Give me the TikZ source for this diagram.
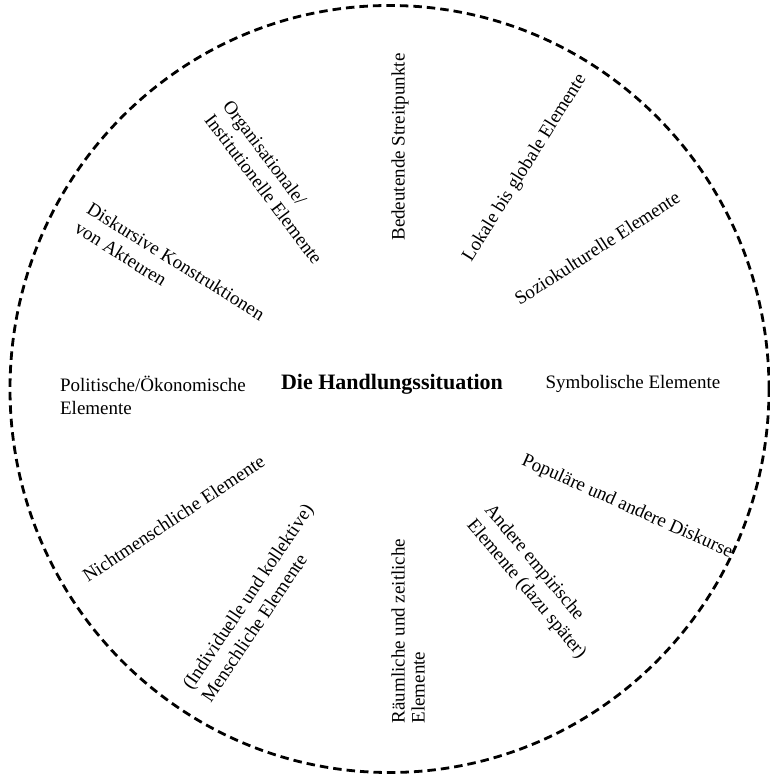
\documentclass[tikz,border=0pt]{standalone}
\usepackage{fontspec}
\setmainfont{Liberation Serif}
\begin{document}
\begin{tikzpicture}[x=1pt,y=1pt,
  lbl/.style={font=\fontsize{19}{23}\selectfont, align=left, inner sep=0pt},
  ring/.style={draw=black, line width=2.8pt, dash pattern=on 8.5pt off 5pt}]
\useasboundingbox (0,0) rectangle (770,776);
\draw[ring] (389.5,387) ellipse [x radius=379.5, y radius=383.5];
\node[lbl, font=\fontsize{22}{26}\selectfont\bfseries] (c) at (392,392) {Die Handlungssituation};
\node[lbl, rotate=90] (bed) at (400,629) {Bedeutende Streitpunkte};
\node[lbl, rotate=58] (lok) at (525,608) {Lokale bis globale Elemente};
\node[lbl, rotate=33] (soz) at (597,528) {Soziokulturelle Elemente};
\node[lbl] (sym) at (633,392) {Symbolische Elemente};
\node[lbl, rotate=-24] (pop) at (627,269) {Populäre und andere Diskurse};
\node[lbl, rotate=-50] (and) at (535,194) {Andere empirische\\Elemente (dazu später)};
\node[lbl, rotate=90, font=\fontsize{19}{20}\selectfont] (rau) at (408,145) {Räumliche und zeitliche\\Elemente};
\node[lbl, rotate=56] (ind) at (257,173) {(Individuelle und kollektive)\\Menschliche Elemente};
\node[lbl, rotate=33.5] (nic) at (173.5,257.5) {Nichtmenschliche Elemente};
\node[lbl] (pol) at (153,381) {Politische/Ökonomische\\Elemente};
\node[lbl, rotate=-32] (dis) at (170,505) {Diskursive Konstruktionen\\von Akteuren};
\node[lbl, rotate=-53] (org) at (273,594) {Organisationale/\\Institutionelle Elemente};
\end{tikzpicture}
\end{document}
